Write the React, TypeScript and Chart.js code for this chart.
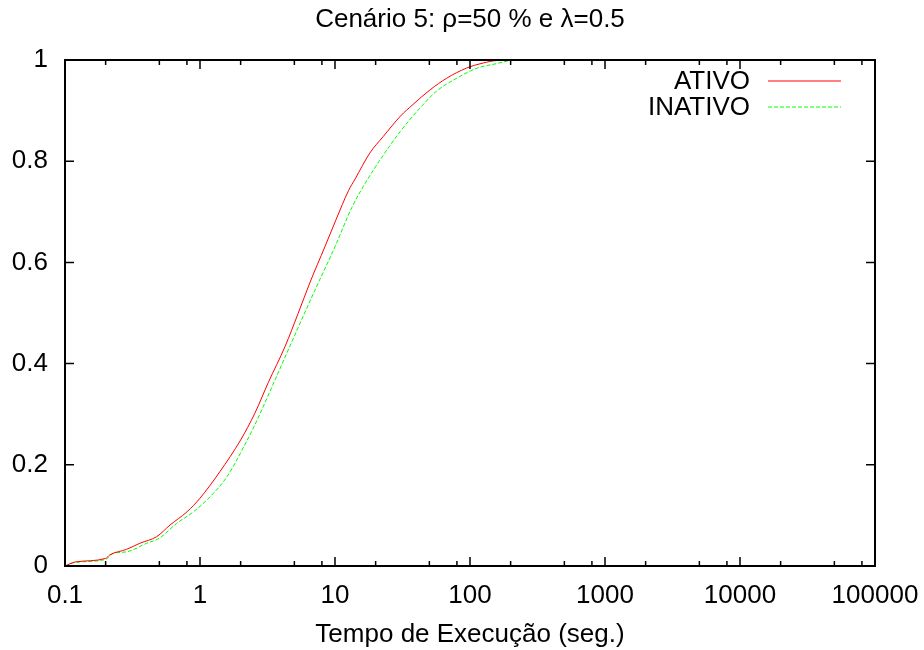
import { useEffect, useRef } from 'react';
import { Chart, registerables } from 'chart.js';

Chart.register(...registerables);

const chartTitle = 'Cenário 5: ρ=50 % e λ=0.5';
const xAxisTitle = 'Tempo de Execução (seg.)';
const seriesLabels = ['ATIVO', 'INATIVO'];
const seriesColors = ['#ff0000', '#00ff00'];
const xTickValues = [0.1, 1, 10, 100, 1000, 10000, 100000];
const xMinorMultipliers = [2, 5, 8];
const yTickValues = [0, 0.2, 0.4, 0.6, 0.8, 1];

const ativoX = [0.1, 0.119, 0.2, 0.215, 0.286, 0.359, 0.478, 0.6, 0.8, 1.0, 1.4, 2.0, 2.55, 3.21, 4.27, 5.33, 6.54, 8.42, 10.2, 12.6, 14.1, 18.1, 22.8, 30.5, 37.8, 50.6, 67.2, 94.2, 125, 158, 240];
const ativoY = [0, 0.008, 0.015, 0.022, 0.033, 0.045, 0.058, 0.081, 0.107, 0.134, 0.186, 0.249, 0.302, 0.363, 0.434, 0.499, 0.561, 0.631, 0.685, 0.742, 0.765, 0.816, 0.849, 0.889, 0.912, 0.941, 0.964, 0.984, 0.994, 0.999, 1.0];

const inativoX = [0.1, 0.119, 0.2, 0.228, 0.286, 0.403, 0.5, 0.67, 0.893, 1.19, 1.58, 2.22, 2.55, 3.6, 5.01, 7.1, 10, 13.3, 16.7, 22.8, 30.5, 42.6, 56.3, 79.7, 113, 158, 205];
const inativoY = [0, 0.007, 0.013, 0.025, 0.028, 0.045, 0.055, 0.084, 0.107, 0.137, 0.176, 0.247, 0.279, 0.368, 0.455, 0.545, 0.631, 0.708, 0.756, 0.812, 0.859, 0.905, 0.938, 0.964, 0.984, 0.993, 1.0];

const FONT = "'Liberation Sans', Arial, sans-serif";
const FONT_SIZE = 26;

const framePlugin = {
  id: 'gnuplotFrame',
  afterDraw(chart: any) {
    const { ctx, chartArea, scales } = chart;
    const { left, right, top, bottom } = chartArea;
    const x = scales.x;
    const y = scales.y;
    const major = 9;
    const minor = 5;
    ctx.save();
    ctx.strokeStyle = '#000';
    ctx.lineWidth = 1.5;
    ctx.beginPath();
    xTickValues.forEach((v, i) => {
      const px = x.getPixelForValue(v);
      ctx.moveTo(px, bottom);
      ctx.lineTo(px, bottom - major);
      ctx.moveTo(px, top);
      ctx.lineTo(px, top + major);
      if (i < xTickValues.length - 1) {
        xMinorMultipliers.forEach((m) => {
          const mp = x.getPixelForValue(v * m);
          ctx.moveTo(mp, bottom);
          ctx.lineTo(mp, bottom - minor);
          ctx.moveTo(mp, top);
          ctx.lineTo(mp, top + minor);
        });
      }
    });
    yTickValues.forEach((v) => {
      const py = y.getPixelForValue(v);
      ctx.moveTo(left, py);
      ctx.lineTo(left + major, py);
      ctx.moveTo(right, py);
      ctx.lineTo(right - major, py);
    });
    ctx.stroke();
    ctx.lineWidth = 2;
    ctx.strokeRect(left, top, right - left, bottom - top);

    // legend (gnuplot style: text then sample line)
    ctx.font = `${FONT_SIZE}px ${FONT}`;
    ctx.fillStyle = '#000';
    ctx.textAlign = 'right';
    ctx.textBaseline = 'middle';
    chart.data.datasets.forEach((ds: any, i: number) => {
      const ly = 81 + i * 26;
      ctx.fillText(ds.label, 750, ly + 1);
      ctx.save();
      ctx.strokeStyle = ds.borderColor;
      ctx.lineWidth = 1;
      ctx.setLineDash(ds.borderDash || []);
      ctx.beginPath();
      ctx.moveTo(768, ly);
      ctx.lineTo(841, ly);
      ctx.stroke();
      ctx.restore();
    });
    ctx.restore();
  },
};

export default function App() {
  const ref = useRef<HTMLCanvasElement | null>(null);
  useEffect(() => {
    if (!ref.current) return;
    Chart.defaults.font.family = FONT;
    const chart = new Chart(ref.current, {
      type: 'scatter',
      data: {
        datasets: [
          {
            label: seriesLabels[0],
            data: ativoX.map((v, i) => ({ x: v, y: ativoY[i] })),
            showLine: true,
            borderColor: seriesColors[0],
            backgroundColor: seriesColors[0],
            borderWidth: 1,
            pointRadius: 0,
            cubicInterpolationMode: 'monotone',
          },
          {
            label: seriesLabels[1],
            data: inativoX.map((v, i) => ({ x: v, y: inativoY[i] })),
            showLine: true,
            borderColor: seriesColors[1],
            backgroundColor: seriesColors[1],
            borderWidth: 1,
            borderDash: [4, 2],
            pointRadius: 0,
            cubicInterpolationMode: 'monotone',
          },
        ],
      },
      options: {
        animation: false,
        responsive: false,
        layout: { padding: { left: 0, right: 49, top: 0, bottom: 0 } },
        scales: {
          x: {
            type: 'logarithmic',
            min: 0.1,
            max: 100000,
            afterBuildTicks: (s: any) => {
              s.ticks = xTickValues.map((value) => ({ value }));
            },
            afterFit: (s: any) => {
              s.height = 84;
              s.paddingRight = 0;
              s.paddingLeft = 0;
            },
            ticks: {
              callback: (v: any) => String(v),
              font: { size: FONT_SIZE },
              color: '#000',
              padding: 14,
              maxRotation: 0,
              autoSkip: false,
            },
            grid: { display: false, drawTicks: false },
            border: { display: false },
            title: {
              display: true,
              text: xAxisTitle,
              font: { size: FONT_SIZE },
              color: '#000',
              padding: { top: 0, bottom: 0 },
            },
          },
          y: {
            min: 0,
            max: 1,
            afterBuildTicks: (s: any) => {
              s.ticks = yTickValues.map((value) => ({ value }));
            },
            afterFit: (s: any) => {
              s.width = 65;
            },
            ticks: {
              callback: (v: any) => String(v),
              font: { size: FONT_SIZE },
              color: '#000',
              padding: 17,
            },
            grid: { display: false, drawTicks: false },
            border: { display: false },
          },
        },
        plugins: {
          legend: { display: false },
          tooltip: { enabled: false },
          title: {
            display: true,
            text: chartTitle,
            fullSize: false,
            font: { size: FONT_SIZE, weight: 'normal' },
            color: '#000',
            padding: { top: 4.5, bottom: 24.3 },
          },
        },
      } as any,
      plugins: [framePlugin],
    });
    return () => chart.destroy();
  }, []);
  return (
    <div style={{ position: 'absolute', left: 0, top: 0, width: 924, height: 650, background: '#fff' }}>
      <canvas ref={ref} width={924} height={650} />
    </div>
  );
}
